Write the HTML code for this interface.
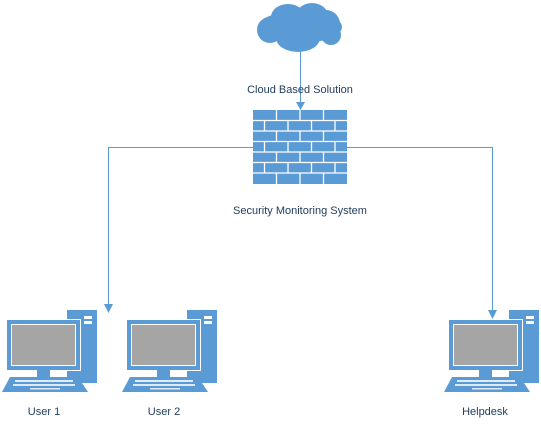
<!DOCTYPE html>
<html><head><style>
html,body{margin:0;padding:0;background:#fff;}
svg{display:block;}
text{font-family:"Liberation Sans",sans-serif;font-size:11px;fill:#1f3a5a;}
</style></head><body>
<svg width="541" height="427" viewBox="0 0 541 427" xmlns="http://www.w3.org/2000/svg">
<defs>
<g id="pc">
  <rect x="67" y="310" width="30" height="73" fill="#5b9bd5"/>
  <rect x="84" y="316" width="8" height="3" fill="#fff"/>
  <rect x="84" y="321" width="8" height="3" fill="#fff"/>
  <rect x="6" y="319" width="75" height="52" fill="#fff"/>
  <rect x="7" y="320" width="73" height="50" fill="#5b9bd5"/>
  <rect x="11" y="324" width="65" height="42" fill="#fff"/>
  <rect x="12" y="325" width="63" height="40" fill="#a5a5a5"/>
  <rect x="37" y="370" width="13" height="7" fill="#5b9bd5"/>
  <polygon points="10,377 78,377 88,392 2,392" fill="#5b9bd5"/>
  <rect x="15" y="380" width="58" height="2" fill="#fff" opacity="0.8"/>
  <rect x="13" y="384" width="62" height="2" fill="#fff" opacity="0.8"/>
  <rect x="30" y="388" width="30" height="1.5" fill="#fff" opacity="0.8"/>
</g>
</defs>
<!-- cloud -->
<g fill="#5b9bd5">
  <ellipse cx="300" cy="27" rx="42" ry="16"/>
  <ellipse cx="288" cy="17" rx="17" ry="13"/>
  <ellipse cx="312" cy="16" rx="16" ry="13"/>
  <circle cx="326" cy="24" r="14"/>
  <circle cx="270" cy="30" r="13"/>
  <ellipse cx="298" cy="38" rx="22" ry="14"/>
  <circle cx="331" cy="35" r="10"/>
</g>
<!-- connectors -->
<g stroke="#5b9bd5" stroke-width="1" fill="none">
  <line x1="300.5" y1="50" x2="300.5" y2="104"/>
  <polyline points="253,147.5 108.5,147.5 108.5,306"/>
  <polyline points="347,147.5 492.5,147.5 492.5,312"/>
</g>
<g fill="#5b9bd5">
  <polygon points="296,102 305,102 300.5,110"/>
  <polygon points="104,304 113,304 108.5,313"/>
  <polygon points="488,310 497,310 492.5,319"/>
</g>
<!-- firewall -->
<rect x="253" y="110" width="94" height="74" fill="#5b9bd5"/>
<g stroke="#fff" stroke-width="1.3">
  <line x1="253" y1="120.5" x2="347" y2="120.5"/>
  <line x1="253" y1="131" x2="347" y2="131"/>
  <line x1="253" y1="141.5" x2="347" y2="141.5"/>
  <line x1="253" y1="152" x2="347" y2="152"/>
  <line x1="253" y1="162.5" x2="347" y2="162.5"/>
  <line x1="253" y1="173" x2="347" y2="173"/>
  <path d="M276.5 110v10.5M300 110v10.5M323.5 110v10.5 M264.5 120.5v10.5M288 120.5v10.5M311.5 120.5v10.5M335 120.5v10.5 M276.5 131v10.5M300 131v10.5M323.5 131v10.5 M264.5 141.5v10.5M288 141.5v10.5M311.5 141.5v10.5M335 141.5v10.5 M276.5 152v10.5M300 152v10.5M323.5 152v10.5 M264.5 162.5v10.5M288 162.5v10.5M311.5 162.5v10.5M335 162.5v10.5 M276.5 173v11M300 173v11M323.5 173v11"/>
</g>
<!-- computers -->
<use href="#pc"/>
<use href="#pc" x="120"/>
<use href="#pc" x="442"/>
<!-- labels -->
<text x="300" y="93" text-anchor="middle">Cloud Based Solution</text>
<text x="300" y="214" text-anchor="middle">Security Monitoring System</text>
<text x="44" y="415" text-anchor="middle">User 1</text>
<text x="164" y="415" text-anchor="middle">User 2</text>
<text x="485" y="415" text-anchor="middle">Helpdesk</text>
</svg>
</body></html>
